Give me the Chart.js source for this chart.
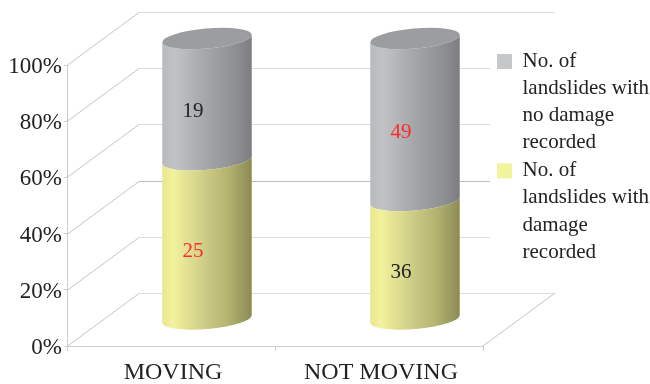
<!DOCTYPE html>
<html>
<head>
<meta charset="utf-8">
<script src="https://cdn.jsdelivr.net/npm/chart.js@4"></script>
<style>
    body { margin: 0; background: #fff; }
</style>
</head>
<body>
<canvas id="landslideChart" width="650" height="384"></canvas>
<script>
const categories = ["MOVING", "NOT MOVING"];
const withDamage = [25, 36];
const noDamage = [19, 49];
const withDamageColors = ["#ff2a2a", "#222222"];
const noDamageColors = ["#222222", "#ff2a2a"];
const yTicks = [0, 20, 40, 60, 80, 100];
const withDamageLabel = ["No. of", "landslides with", "damage", "recorded"];
const noDamageLabel = ["No. of", "landslides with", "no damage", "recorded"];

const FONT = "'Liberation Serif', serif";
const DEPTH_X = 72, DEPTH_Y = 53;
const TILT = -5 * Math.PI / 180;
const RY = 10;

function toPercent(list, other) {
    return list.map((v, i) => v / (v + other[i]) * 100);
}

// side of the cylinder, shaded left to right
function sideGradient(ctx, left, right, stops) {
    const g = ctx.createLinearGradient(left, 0, right, 0);
    stops.forEach(s => g.addColorStop(s[0], s[1]));
    return g;
}

const yellowStops = [[0, "#e8e78f"], [0.12, "#f3f29e"], [0.45, "#d0cf88"], [0.75, "#b2b16f"], [1, "#8b8a55"]];
const grayStops = [[0, "#b9babe"], [0.15, "#c1c2c6"], [0.5, "#a4a5a9"], [0.8, "#909195"], [1, "#7c7d81"]];

const walls = {
    id: "walls",
    beforeDatasetsDraw(chart) {
        const { ctx, scales: { x, y } } = chart;
        ctx.save();
        ctx.lineWidth = 1;
        yTicks.forEach(v => {
            const py = Math.round(y.getPixelForValue(v)) + 0.5;
            const full = v === 0 || v === 100;
            ctx.strokeStyle = v === 40 ? "#bdbdbd" : "#dcdcdc";
            ctx.beginPath();
            ctx.moveTo(x.left + DEPTH_X, py - DEPTH_Y);
            ctx.lineTo(x.right + (full ? DEPTH_X : 7), py - DEPTH_Y);
            ctx.stroke();
            ctx.strokeStyle = "#c4c4c4";
            ctx.beginPath();
            ctx.moveTo(x.left, py);
            ctx.lineTo(x.left + DEPTH_X, py - DEPTH_Y);
            ctx.stroke();
        });
        const py = y.getPixelForValue(0);
        ctx.beginPath();
        ctx.moveTo(x.right, py);
        ctx.lineTo(x.right + DEPTH_X, py - DEPTH_Y);
        ctx.stroke();
        ctx.restore();
    },
    // replaces the flat bars with cylinder sections
    beforeDatasetDraw(chart, args) {
        const { ctx } = chart;
        const stops = args.index === 0 ? yellowStops : grayStops;
        args.meta.data.forEach(el => {
            const p = el.getProps(["x", "y", "base", "width"], true);
            const rx = p.width / 2;
            const cx = p.x + DEPTH_X / 2;
            const top = p.y - DEPTH_Y / 2;
            const bottom = p.base - DEPTH_Y / 2;
            ctx.save();
            ctx.beginPath();
            ctx.ellipse(cx, bottom, rx, RY, TILT, 0, Math.PI);
            ctx.ellipse(cx, top, rx, RY, TILT, Math.PI, 0, true);
            ctx.closePath();
            ctx.fillStyle = sideGradient(ctx, cx - rx, cx + rx, stops);
            ctx.fill();
            ctx.restore();
        });
        return false;
    },
    afterDatasetsDraw(chart) {
        const { ctx } = chart;
        // caps on top of the gray sections
        chart.getDatasetMeta(1).data.forEach(el => {
            const p = el.getProps(["x", "y", "width"], true);
            ctx.beginPath();
            ctx.ellipse(p.x + DEPTH_X / 2, p.y - DEPTH_Y / 2, p.width / 2, RY, TILT, 0, Math.PI * 2);
            ctx.fillStyle = "#9c9da1";
            ctx.fill();
        });
        // counts on the sections
        ctx.save();
        ctx.font = "21px " + FONT;
        ctx.textAlign = "center";
        ctx.textBaseline = "middle";
        chart.data.datasets.forEach((ds, i) => {
            chart.getDatasetMeta(i).data.forEach((el, j) => {
                const p = el.getProps(["x", "y", "base"], true);
                ctx.fillStyle = ds.labelColors[j];
                ctx.fillText(ds.counts[j], p.x + 22, (p.y + p.base) / 2 - 14);
            });
        });
        ctx.restore();
    },
    afterLayout(chart) {
        // legend sits up against the wall, level with the upper grid lines
        const lg = chart.legend;
        const h = lg.bottom - lg.top;
        lg.left = 496;
        lg.right = 650;
        lg.top = 50;
        lg.bottom = 50 + h;
    }
};

new Chart(document.getElementById("landslideChart"), {
    type: "bar",
    data: {
        labels: categories,
        datasets: [
            {
                label: withDamageLabel,
                data: toPercent(withDamage, noDamage),
                counts: withDamage,
                labelColors: withDamageColors,
                backgroundColor: "#f3f29d"
            },
            {
                label: noDamageLabel,
                data: toPercent(noDamage, withDamage),
                counts: noDamage,
                labelColors: noDamageColors,
                backgroundColor: "#c6c7c9"
            }
        ]
    },
    options: {
        responsive: false,
        animation: false,
        layout: { padding: { top: 65, right: 6 } },
        datasets: { bar: { barPercentage: 1, categoryPercentage: 0.432 } },
        plugins: {
            tooltip: { enabled: false },
            legend: {
                position: "right",
                align: "start",
                reverse: true,
                labels: {
                    boxWidth: 15,
                    boxHeight: 15,
                    padding: 1,
                    color: "#222",
                    font: { family: FONT, size: 21, lineHeight: 1.29 }
                }
            }
        },
        scales: {
            x: {
                stacked: true,
                grid: { drawOnChartArea: false, color: "#cfcfcf", tickLength: 5 },
                border: { color: "#cfcfcf" },
                ticks: { color: "#222", padding: 7, labelOffset: 2, maxRotation: 0, font: { family: FONT, size: 24 } },
                afterFit(scale) { scale.height = 38; }
            },
            y: {
                stacked: true,
                min: 0,
                max: 100,
                afterBuildTicks(scale) { scale.ticks = yTicks.map(v => ({ value: v })); },
                grid: { drawOnChartArea: false, color: "#cfcfcf", tickLength: 3 },
                border: { color: "#cfcfcf" },
                ticks: { color: "#222", padding: 2, labelOffset: 2, callback: v => v + "%", font: { family: FONT, size: 23 } },
                afterFit(scale) { scale.width = 67; }
            }
        }
    },
    plugins: [walls]
});
</script>
</body>
</html>
